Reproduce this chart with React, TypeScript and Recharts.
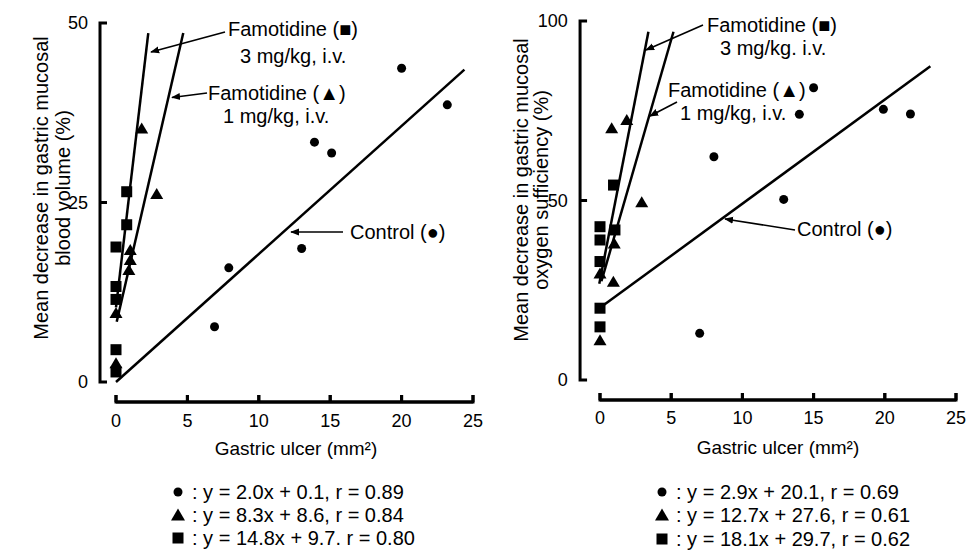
import { ReferenceLine, Scatter, ScatterChart, XAxis, YAxis } from "recharts";

type Pt = { x: number; y: number };

const xTicks = [0, 5, 10, 15, 20, 25];
const volumeTicks = [0, 25, 50];
const oxygenTicks = [0, 50, 100];

// blood volume panel (left)
const volumeControl: Pt[] = [
  { x: 20.0, y: 43.7 },
  { x: 23.2, y: 38.6 },
  { x: 13.9, y: 33.4 },
  { x: 15.1, y: 31.9 },
  { x: 13.0, y: 18.6 },
  { x: 7.9, y: 15.9 },
  { x: 6.9, y: 7.7 },
];
const volumeLow: Pt[] = [
  { x: 1.8, y: 35.3 },
  { x: 2.85, y: 26.2 },
  { x: 1.0, y: 18.4 },
  { x: 1.0, y: 17.0 },
  { x: 0.9, y: 15.6 },
  { x: 0, y: 9.6 },
  { x: 0, y: 2.6 },
];
const volumeHigh: Pt[] = [
  { x: 0.75, y: 26.5 },
  { x: 0.75, y: 21.9 },
  { x: 0, y: 18.8 },
  { x: 0, y: 13.3 },
  { x: 0, y: 11.5 },
  { x: 0, y: 4.5 },
  { x: 0, y: 1.4 },
];
const volumeControlFit: Pt[] = [{ x: 0, y: 0 }, { x: 24.4, y: 43.5 }];
const volumeLowFit: Pt[] = [{ x: 0.05, y: 8.4 }, { x: 4.71, y: 48.6 }];
const volumeHighFit: Pt[] = [{ x: 0, y: 10.4 }, { x: 2.26, y: 48.6 }];
const volumeEquations = [
  ": y = 2.0x + 0.1,  r = 0.89",
  ": y = 8.3x + 8.6,  r = 0.84",
  ": y = 14.8x + 9.7.  r = 0.80",
];

// oxygen sufficiency panel (right)
const oxygenControl: Pt[] = [
  { x: 15.0, y: 81.4 },
  { x: 14.0, y: 74.0 },
  { x: 19.9, y: 75.4 },
  { x: 21.8, y: 74.1 },
  { x: 8.0, y: 62.2 },
  { x: 12.9, y: 50.3 },
  { x: 7.0, y: 13.0 },
];
const oxygenLow: Pt[] = [
  { x: 0.82, y: 70.1 },
  { x: 1.88, y: 72.4 },
  { x: 2.93, y: 49.5 },
  { x: 1.0, y: 38.0 },
  { x: 0, y: 29.7 },
  { x: 0.94, y: 27.4 },
  { x: 0, y: 11.1 },
];
const oxygenHigh: Pt[] = [
  { x: 0.95, y: 54.3 },
  { x: 0, y: 42.7 },
  { x: 1.05, y: 41.8 },
  { x: 0, y: 39.0 },
  { x: 0, y: 33.0 },
  { x: 0, y: 20.0 },
  { x: 0, y: 14.8 },
];
const oxygenControlFit: Pt[] = [{ x: 0, y: 20.1 }, { x: 23.2, y: 87.4 }];
const oxygenLowFit: Pt[] = [{ x: 0.1, y: 27.5 }, { x: 5.16, y: 97 }];
const oxygenHighFit: Pt[] = [{ x: -0.05, y: 26.8 }, { x: 3.4, y: 97 }];
const oxygenEquations = [
  ": y = 2.9x + 20.1,  r = 0.69",
  ": y = 12.7x + 27.6,  r = 0.61",
  ": y = 18.1x + 29.7,  r = 0.62",
];

const FONT = "'Liberation Sans', Arial, Helvetica, sans-serif";
const W = 483;
const H = 550;
const Y_AXIS_W = 50;
const X_AXIS_H = 30;
const TICK = 7;

// panel geometry: where x = 0 / y = 0 land and px per unit
const volumeFrame = { left: 0, originX: 116, originY: 382, kx: 14.28, ky: 7.18, axisX: -1.12, axisY: -2.79 };
const oxygenFrame = { left: 483, originX: 117, originY: 380, kx: 14.24, ky: 3.59, axisX: -1.4, axisY: -5.57 };

const Dot = (p: any) => <circle cx={p.cx} cy={p.cy} r={4.5} fill="#000" />;
const Tri = (p: any) => (
  <path d={`M${p.cx},${p.cy - 6} L${p.cx + 6.5},${p.cy + 5} L${p.cx - 6.5},${p.cy + 5} Z`} fill="#000" />
);
const Sq = (p: any) => <rect x={p.cx - 5.5} y={p.cy - 5.5} width={11} height={11} fill="#000" />;
const NoMark = () => <g />;

type Frame = typeof volumeFrame;

type PanelProps = {
  frame: Frame;
  xDomain: [number, number];
  yDomain: [number, number];
  yTicks: number[];
  control: Pt[];
  low: Pt[];
  high: Pt[];
  fits: Pt[][];
};

function Panel(props: PanelProps) {
  const { xDomain, yDomain, yTicks, frame } = props;
  const { axisX, axisY, kx, ky } = frame;
  const plotLeft = frame.originX + xDomain[0] * kx;
  const plotRight = frame.originX + xDomain[1] * kx;
  const plotTop = frame.originY - yDomain[1] * ky;
  const plotBottom = frame.originY - yDomain[0] * ky;
  const margin = {
    left: plotLeft - Y_AXIS_W,
    right: W - plotRight,
    top: plotTop,
    bottom: H - plotBottom - X_AXIS_H,
  };
  const tx = TICK / kx;
  const ty = TICK / ky;
  // bracket-like axes: run along the axis and step in at each tick
  const yAxisPath: Pt[] = yTicks.flatMap((t) => [
    { x: axisX, y: t },
    { x: axisX + tx, y: t },
    { x: axisX, y: t },
  ]);
  const xAxisPath: Pt[] = xTicks.flatMap((t) => [
    { x: t, y: axisY },
    { x: t, y: axisY + ty },
    { x: t, y: axisY },
  ]);
  return (
    <div style={{ position: "absolute", left: frame.left, top: 0, width: W, height: H }}>
      <ScatterChart width={W} height={H} margin={margin}>
        <XAxis
          type="number"
          dataKey="x"
          domain={xDomain}
          ticks={xTicks}
          axisLine={false}
          tickLine={false}
          tickSize={0}
          tickMargin={8}
          height={X_AXIS_H}
          tick={{ fill: "#000", fontSize: 18 }}
        />
        <YAxis
          type="number"
          dataKey="y"
          domain={yDomain}
          ticks={yTicks}
          axisLine={false}
          tickLine={false}
          tickSize={0}
          tickMargin={8}
          width={Y_AXIS_W}
          tick={{ fill: "#000", fontSize: 18 }}
        />
        <Scatter data={yAxisPath} line={{ stroke: "#000", strokeWidth: 3 }} shape={NoMark} isAnimationActive={false} />
        <Scatter data={xAxisPath} line={{ stroke: "#000", strokeWidth: 3 }} shape={NoMark} isAnimationActive={false} />
        {props.fits.map((f, i) => (
          <ReferenceLine key={"fit" + i} segment={[f[0], f[1]]} stroke="#000" strokeWidth={2.5} ifOverflow="visible" />
        ))}
        <Scatter data={props.control} shape={Dot} isAnimationActive={false} />
        <Scatter data={props.low} shape={Tri} isAnimationActive={false} />
        <Scatter data={props.high} shape={Sq} isAnimationActive={false} />
      </ScatterChart>
    </div>
  );
}

// copy of the x-axis bracket drawn from the same frame numbers, on top of the plots
function FrameXAxis({ frame }: { frame: Frame }) {
  const x0 = frame.left + frame.originX;
  const y = frame.originY - frame.axisY * frame.ky;
  const px = (v: number) => x0 + v * frame.kx;
  const d =
    `M${px(xTicks[0])},${y} L${px(xTicks[xTicks.length - 1])},${y} ` +
    xTicks.map((t) => `M${px(t)},${y} L${px(t)},${y - TICK}`).join(" ");
  return <path d={d} stroke="#000" strokeWidth={3} fill="none" />;
}

function LegendRows({ x, ys, lines }: { x: number; ys: number[]; lines: string[] }) {
  return (
    <g>
      <circle cx={x} cy={ys[0]} r={4.5} fill="#000" />
      <path d={`M${x},${ys[1] - 6.5} L${x + 7},${ys[1] + 5.5} L${x - 7},${ys[1] + 5.5} Z`} fill="#000" />
      <rect x={x - 5.5} y={ys[2] - 5.5} width={11} height={11} fill="#000" />
      {lines.map((l, i) => (
        <text key={l} x={x + 14} y={ys[i]} dominantBaseline="central" fontSize={20} fill="#000">
          {l}
        </text>
      ))}
    </g>
  );
}

export default function App() {
  return (
    <div
      style={{
        position: "absolute",
        left: 0,
        top: 0,
        width: 966,
        height: 550,
        background: "#fff",
        fontFamily: FONT,
        color: "#000",
      }}
    >
      <Panel
        frame={volumeFrame}
        xDomain={[-1.4, 25.6]}
        yDomain={[-3.4, 51.5]}
        yTicks={volumeTicks}
        control={volumeControl}
        low={volumeLow}
        high={volumeHigh}
        fits={[volumeControlFit, volumeLowFit, volumeHighFit]}
      />
      <Panel
        frame={oxygenFrame}
        xDomain={[-1.7, 25.6]}
        yDomain={[-6.6, 103]}
        yTicks={oxygenTicks}
        control={oxygenControl}
        low={oxygenLow}
        high={oxygenHigh}
        fits={[oxygenControlFit, oxygenLowFit, oxygenHighFit]}
      />
      {/* titles, call-outs, equations and the x-axis brackets on top of the plots */}
      <svg
        width={966}
        height={550}
        style={{ position: "absolute", left: 0, top: 0, zIndex: 5, pointerEvents: "none", fontFamily: FONT }}
      >
        <defs>
          <marker id="ah" viewBox="0 0 10 10" refX="9" refY="5" markerWidth="9" markerHeight="9" markerUnits="userSpaceOnUse" orient="auto">
            <path d="M0,1 L10,5 L0,9 Z" fill="#000" />
          </marker>
        </defs>
        <FrameXAxis frame={volumeFrame} />
        <FrameXAxis frame={oxygenFrame} />
        <g fontSize={20} textAnchor="middle" dominantBaseline="central" fill="#000">
          <text transform="translate(41,188) rotate(-90)">Mean decrease in gastric mucosal</text>
          <text transform="translate(63,188) rotate(-90)">blood volume (%)</text>
          <text transform="translate(521,190) rotate(-90)">Mean decrease in gastric mucosal</text>
          <text transform="translate(541,190) rotate(-90)">oxygen sufficiency (%)</text>
          <text x={296} y={448} fontSize={19}>Gastric ulcer (mm²)</text>
          <text x={778} y={447} fontSize={19}>Gastric ulcer (mm²)</text>
        </g>
        <g fontSize={20} dominantBaseline="central" fill="#000">
          <text x={228} y={29}>Famotidine (■)</text>
          <text x={240} y={56}>3 mg/kg, i.v.</text>
          <text x={208} y={93}>Famotidine (▲)</text>
          <text x={223} y={116}>1 mg/kg, i.v.</text>
          <text x={350} y={232}>Control (●)</text>
          <text x={707} y={25}>Famotidine (■)</text>
          <text x={720} y={48}>3 mg/kg. i.v.</text>
          <text x={668} y={90}>Famotidine (▲)</text>
          <text x={680} y={113}>1 mg/kg, i.v.</text>
          <text x={797} y={229}>Control (●)</text>
        </g>
        <g stroke="#000" strokeWidth={1.6} markerEnd="url(#ah)">
          <line x1={225} y1={32} x2={151} y2={52} />
          <line x1={207} y1={93} x2={172} y2={97.5} />
          <line x1={343} y1={232} x2={291} y2={232} />
          <line x1={703} y1={25} x2={646} y2={50} />
          <line x1={677} y1={102} x2={650} y2={116} />
          <line x1={795} y1={230} x2={725} y2={219} />
        </g>
        <LegendRows x={178} ys={[492, 515, 538]} lines={volumeEquations} />
        <LegendRows x={662} ys={[492, 515, 539]} lines={oxygenEquations} />
      </svg>
    </div>
  );
}
